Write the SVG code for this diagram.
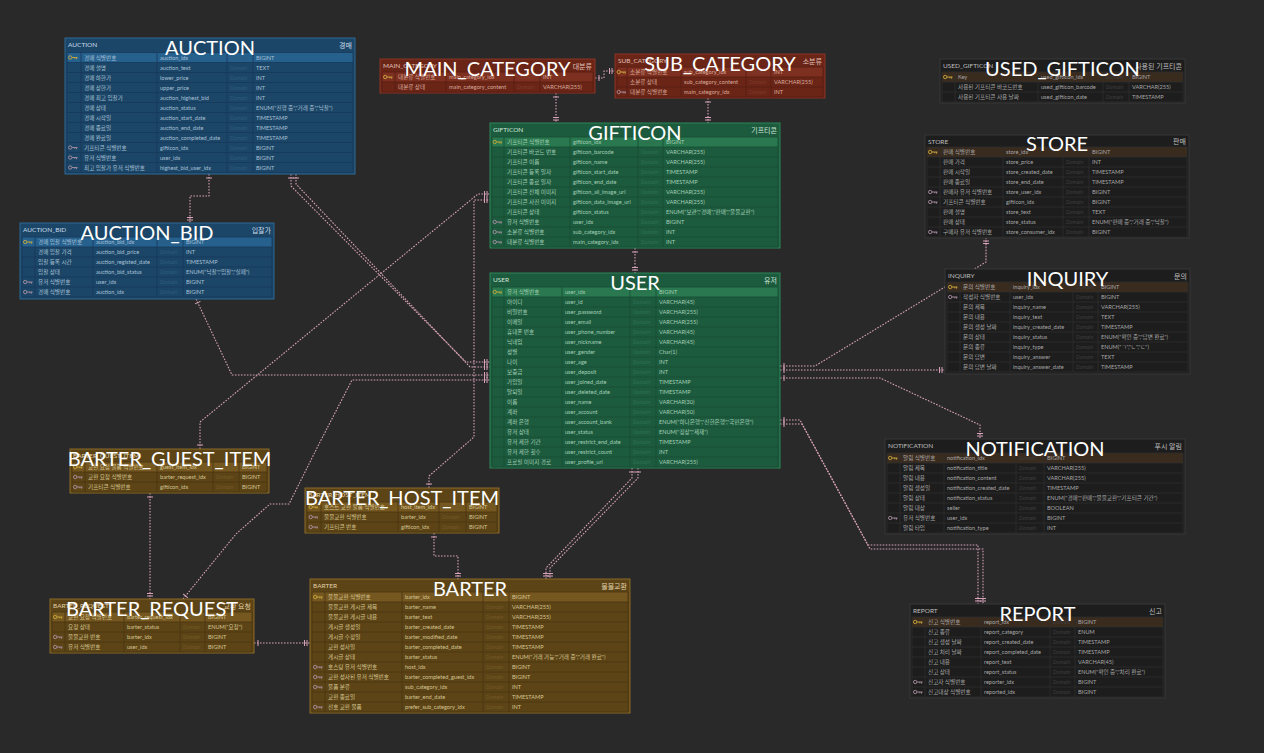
<svg xmlns="http://www.w3.org/2000/svg" xmlns:xlink="http://www.w3.org/1999/xlink" width="1264" height="753" viewBox="0 0 1264 753">
<style>
text{font-family:Lato,"Noto Sans","Noto Sans CJK KR",sans-serif}
.k,.p,.y{font-size:5.6px}
.d{font-size:5.3px;font-style:italic}
.hl{font-size:6.5px}
.hr{font-size:7px;text-anchor:end}
.grid{fill:none;stroke-width:0.8}
.box{stroke-width:1}
.blue .box{fill:#1c4667;stroke:#2c6894}.blue .pk{fill:#26618e}.blue .grid{stroke:#17395a}
.blue text{fill:#a7c0d6}.blue .d{fill:#2e5b7e}.blue .hl,.blue .hr{fill:#c9dbe9}
.green .box{fill:#1d5b3f;stroke:#2d8656}.green .pk{fill:#29784f}.green .grid{stroke:#184b34}
.green text{fill:#a3cfb5}.green .d{fill:#2e7050}.green .hl,.green .hr{fill:#cfe6d8}
.red .box{fill:#6a2517;stroke:#8a3524}.red .pk{fill:#7e3020}.red .grid{stroke:#561c11}
.red text{fill:#d9aa9c}.red .d{fill:#7e3b2c}.red .hl,.red .hr{fill:#e0c0b8}
.gold .box{fill:#5c4416;stroke:#8a6a28}.gold .pk{fill:#755720}.gold .grid{stroke:#4a3610}
.gold text{fill:#d6c591}.gold .d{fill:#735a28}.gold .hl,.gold .hr{fill:#e0d0a8}
.dark .box{fill:#1d1d1d;stroke:#393939}.dark .pk{fill:#3a2b1f}.dark .grid{stroke:#2e2e2e}
.dark text{fill:#a7a7a7}.dark .d{fill:#3e3e3e}.dark .hl,.dark .hr{fill:#bdbdbd}
.node text.ttl{font-size:20px;fill:#ffffff;text-anchor:middle}
.conn path{fill:none;stroke:#d8a3b8;stroke-width:1.1;stroke-dasharray:1.6 1.4;marker-start:url(#m1);marker-end:url(#m2)}
</style>
<defs>
<marker id="m1" viewBox="-7 -4 9 8" refX="0" refY="0" markerWidth="9" markerHeight="8" markerUnits="userSpaceOnUse" orient="auto-start-reverse"><path d="M-4,-3V3" stroke="#d8a3b8" stroke-width="1" fill="none"/></marker>
<marker id="m2" viewBox="-7 -4 9 8" refX="0" refY="0" markerWidth="9" markerHeight="8" markerUnits="userSpaceOnUse" orient="auto-start-reverse"><path d="M-3,-3V3M-5.5,-3V3" stroke="#d8a3b8" stroke-width="1" fill="none"/></marker>
<g id="kp"><circle cx="2.2" cy="0" r="1.7" fill="none" stroke="#c9a83c" stroke-width="0.9"/><path d="M3.9,0H9.5M8.6,0V1.7M6.8,0V1.3" stroke="#c9a83c" stroke-width="0.9" fill="none"/></g>
<g id="kf"><circle cx="2.2" cy="0" r="1.7" fill="none" stroke="#a88fa0" stroke-width="0.9"/><path d="M3.9,0H9.5M8.6,0V1.7M6.8,0V1.3" stroke="#a88fa0" stroke-width="0.9" fill="none"/></g>
</defs>
<rect width="1264" height="753" fill="#292929"/>

<g class="conn" id="connectors">
<path d="M595,78H604V71H615"/>
<path d="M556,93V123"/>
<path d="M708,98V123"/>
<path d="M635,248V273"/>
<path d="M209,174V196H190V223"/>
<path d="M196,299L232,375H490"/>
<path d="M291,174V186L466,362H490"/>
<path d="M296,174V184L470,367H490"/>
<path d="M200,449V422L478,194H490"/>
<path d="M429,488V476L474,437V200H490"/>
<path d="M183,599L236,534L270,504H289L319,444L352,380H490"/>
<path d="M150,493V599"/>
<path d="M254,643H310"/>
<path d="M434,533V556H458V579"/>
<path d="M632,468V478L546,568V579"/>
<path d="M638,468V478L550,568V579"/>
<path d="M780,366H815L986,262V238"/>
<path d="M780,370H945"/>
<path d="M780,378H880L980,425V439"/>
<path d="M780,420H800L868,545H978V604"/>
<path d="M780,424H802L870,549H983V604"/>
</g>

<g id="auction" class="node blue" transform="translate(65,38)">
<rect class="box" x="0" y="0" width="290" height="136"/>
<text class="hl" x="3" y="9">AUCTION</text><text class="hr" x="287" y="9.5">경매</text>
<g transform="translate(0,14.5)">
<rect class="pk" x="2" y="0" width="286" height="10"/>
<path class="grid" d="M2,0H288V120H2ZM2,10H288M2,20H288M2,30H288M2,40H288M2,50H288M2,60H288M2,70H288M2,80H288M2,90H288M2,100H288M2,110H288M16,0V120M92,0V120M162,0V120M188,0V120"/>
<use href="#kp" x="3" y="5"/><use href="#kf" x="3" y="95"/><use href="#kf" x="3" y="105"/><use href="#kf" x="3" y="115"/>
<text class="k" y="7.2"><tspan x="19">경매 식별번호</tspan><tspan x="19" dy="10">경매 설명</tspan><tspan x="19" dy="10">경매 하한가</tspan><tspan x="19" dy="10">경매 상한가</tspan><tspan x="19" dy="10">경매 최고 입찰가</tspan><tspan x="19" dy="10">경매 상태</tspan><tspan x="19" dy="10">경매 시작일</tspan><tspan x="19" dy="10">경매 종료일</tspan><tspan x="19" dy="10">경매 완료일</tspan><tspan x="19" dy="10">기프티콘 식별번호</tspan><tspan x="19" dy="10">유저 식별번호</tspan><tspan x="19" dy="10">최고 입찰가 유저 식별번호</tspan></text>
<text class="p" y="7.2"><tspan x="95">auction_idx</tspan><tspan x="95" dy="10">auction_text</tspan><tspan x="95" dy="10">lower_price</tspan><tspan x="95" dy="10">upper_price</tspan><tspan x="95" dy="10">auction_highest_bid</tspan><tspan x="95" dy="10">auction_status</tspan><tspan x="95" dy="10">auction_start_date</tspan><tspan x="95" dy="10">auction_end_date</tspan><tspan x="95" dy="10">auction_completed_date</tspan><tspan x="95" dy="10">gifticon_idx</tspan><tspan x="95" dy="10">user_idx</tspan><tspan x="95" dy="10">highest_bid_user_idx</tspan></text>
<text class="d" y="7.2"><tspan x="165">Domain</tspan><tspan x="165" dy="10">Domain</tspan><tspan x="165" dy="10">Domain</tspan><tspan x="165" dy="10">Domain</tspan><tspan x="165" dy="10">Domain</tspan><tspan x="165" dy="10">Domain</tspan><tspan x="165" dy="10">Domain</tspan><tspan x="165" dy="10">Domain</tspan><tspan x="165" dy="10">Domain</tspan><tspan x="165" dy="10">Domain</tspan><tspan x="165" dy="10">Domain</tspan><tspan x="165" dy="10">Domain</tspan></text>
<text class="y" y="7.2"><tspan x="191">BIGINT</tspan><tspan x="191" dy="10">TEXT</tspan><tspan x="191" dy="10">INT</tspan><tspan x="191" dy="10">INT</tspan><tspan x="191" dy="10">INT</tspan><tspan x="191" dy="10">ENUM("진행 중","거래 중","낙찰")</tspan><tspan x="191" dy="10">TIMESTAMP</tspan><tspan x="191" dy="10">TIMESTAMP</tspan><tspan x="191" dy="10">TIMESTAMP</tspan><tspan x="191" dy="10">BIGINT</tspan><tspan x="191" dy="10">BIGINT</tspan><tspan x="191" dy="10">BIGINT</tspan></text>
</g>
<text class="ttl" x="145" y="16.5">AUCTION</text>
</g>

<g id="main_category" class="node red" transform="translate(380,59)">
<rect class="box" x="0" y="0" width="215" height="34"/>
<text class="hl" x="3" y="9">MAIN_CATEGORY</text><text class="hr" x="212" y="9.5">대분류</text>
<g transform="translate(0,13)">
<rect class="pk" x="2" y="0" width="211" height="10"/>
<path class="grid" d="M2,0H213V20H2ZM2,10H213M15,0V20M66,0V20M134,0V20M160,0V20"/>
<use href="#kp" x="3" y="5"/>
<text class="k" y="7.2"><tspan x="18">대분류 식별번호</tspan><tspan x="18" dy="10">대분류 상태</tspan></text>
<text class="p" y="7.2"><tspan x="69">main_category_idx</tspan><tspan x="69" dy="10">main_category_content</tspan></text>
<text class="d" y="7.2"><tspan x="137">Domain</tspan><tspan x="137" dy="10">Domain</tspan></text>
<text class="y" y="7.2"><tspan x="163">INT</tspan><tspan x="163" dy="10">VARCHAR(255)</tspan></text>
</g>
<text class="ttl" x="107.5" y="17">MAIN_CATEGORY</text>
</g>

<g id="sub_category" class="node red" transform="translate(615,54)">
<rect class="box" x="0" y="0" width="210" height="44"/>
<text class="hl" x="3" y="9">SUB_CATEGORY</text><text class="hr" x="207" y="9.5">소분류</text>
<g transform="translate(0,13)">
<rect class="pk" x="2" y="0" width="206" height="10"/>
<path class="grid" d="M2,0H208V30H2ZM2,10H208M2,20H208M12,0V30M66,0V30M131,0V30M156,0V30"/>
<use href="#kp" x="1.5" y="5"/><use href="#kf" x="1.5" y="25"/>
<text class="k" y="7.2"><tspan x="15">소분류 식별번호</tspan><tspan x="15" dy="10">소분류 상태</tspan><tspan x="15" dy="10">대분류 식별번호</tspan></text>
<text class="p" y="7.2"><tspan x="69">sub_category_idx</tspan><tspan x="69" dy="10">sub_category_content</tspan><tspan x="69" dy="10">main_category_idx</tspan></text>
<text class="d" y="7.2"><tspan x="134">Domain</tspan><tspan x="134" dy="10">Domain</tspan><tspan x="134" dy="10">Domain</tspan></text>
<text class="y" y="7.2"><tspan x="159">INT</tspan><tspan x="159" dy="10">VARCHAR(255)</tspan><tspan x="159" dy="10">INT</tspan></text>
</g>
<text class="ttl" x="105" y="16.5">SUB_CATEGORY</text>
</g>

<g id="gifticon" class="node green" transform="translate(490,123)">
<rect class="box" x="0" y="0" width="290" height="125"/>
<text class="hl" x="3" y="9">GIFTICON</text><text class="hr" x="287" y="9.5">기프티콘</text>
<g transform="translate(0,14)">
<rect class="pk" x="2" y="0" width="286" height="10"/>
<path class="grid" d="M2,0H288V110H2ZM2,10H288M2,20H288M2,30H288M2,40H288M2,50H288M2,60H288M2,70H288M2,80H288M2,90H288M2,100H288M14,0V110M80,0V110M148,0V110M173,0V110"/>
<use href="#kp" x="2.5" y="5"/><use href="#kf" x="2.5" y="85"/><use href="#kf" x="2.5" y="95"/><use href="#kf" x="2.5" y="105"/>
<text class="k" y="7.2"><tspan x="17">기프티콘 식별번호</tspan><tspan x="17" dy="10">기프티콘 바코드 번호</tspan><tspan x="17" dy="10">기프티콘 이름</tspan><tspan x="17" dy="10">기프티콘 등록 일자</tspan><tspan x="17" dy="10">기프티콘 종료 일자</tspan><tspan x="17" dy="10">기프티콘 전체 이미지</tspan><tspan x="17" dy="10">기프티콘 사진 이미지</tspan><tspan x="17" dy="10">기프티콘 상태</tspan><tspan x="17" dy="10">유저 식별번호</tspan><tspan x="17" dy="10">소분류 식별번호</tspan><tspan x="17" dy="10">대분류 식별번호</tspan></text>
<text class="p" y="7.2"><tspan x="83">gifticon_idx</tspan><tspan x="83" dy="10">gifticon_barcode</tspan><tspan x="83" dy="10">gifticon_name</tspan><tspan x="83" dy="10">gifticon_start_date</tspan><tspan x="83" dy="10">gifticon_end_date</tspan><tspan x="83" dy="10">gifticon_all_image_url</tspan><tspan x="83" dy="10">gifticon_data_image_url</tspan><tspan x="83" dy="10">gifticon_status</tspan><tspan x="83" dy="10">user_idx</tspan><tspan x="83" dy="10">sub_category_idx</tspan><tspan x="83" dy="10">main_category_idx</tspan></text>
<text class="d" y="7.2"><tspan x="151">Domain</tspan><tspan x="151" dy="10">Domain</tspan><tspan x="151" dy="10">Domain</tspan><tspan x="151" dy="10">Domain</tspan><tspan x="151" dy="10">Domain</tspan><tspan x="151" dy="10">Domain</tspan><tspan x="151" dy="10">Domain</tspan><tspan x="151" dy="10">Domain</tspan><tspan x="151" dy="10">Domain</tspan><tspan x="151" dy="10">Domain</tspan><tspan x="151" dy="10">Domain</tspan></text>
<text class="y" y="7.2"><tspan x="176">BIGINT</tspan><tspan x="176" dy="10">VARCHAR(255)</tspan><tspan x="176" dy="10">VARCHAR(255)</tspan><tspan x="176" dy="10">TIMESTAMP</tspan><tspan x="176" dy="10">TIMESTAMP</tspan><tspan x="176" dy="10">VARCHAR(255)</tspan><tspan x="176" dy="10">VARCHAR(255)</tspan><tspan x="176" dy="10">ENUM("보관","경매","판매","물물교환")</tspan><tspan x="176" dy="10">BIGINT</tspan><tspan x="176" dy="10">INT</tspan><tspan x="176" dy="10">INT</tspan></text>
</g>
<text class="ttl" x="145" y="16.5">GIFTICON</text>
</g>

<g id="user" class="node green" transform="translate(490,273)">
<rect class="box" x="0" y="0" width="290" height="195"/>
<text class="hl" x="3" y="9">USER</text><text class="hr" x="287" y="9.5">유저</text>
<g transform="translate(0,14)">
<rect class="pk" x="2" y="0" width="286" height="10"/>
<path class="grid" d="M2,0H288V180H2ZM2,10H288M2,20H288M2,30H288M2,40H288M2,50H288M2,60H288M2,70H288M2,80H288M2,90H288M2,100H288M2,110H288M2,120H288M2,130H288M2,140H288M2,150H288M2,160H288M2,170H288M14,0V180M72,0V180M140,0V180M166,0V180"/>
<use href="#kp" x="2.5" y="5"/>
<text class="k" y="7.2"><tspan x="17">유저 식별번호</tspan><tspan x="17" dy="10">아이디</tspan><tspan x="17" dy="10">비밀번호</tspan><tspan x="17" dy="10">이메일</tspan><tspan x="17" dy="10">휴대폰 번호</tspan><tspan x="17" dy="10">닉네임</tspan><tspan x="17" dy="10">성별</tspan><tspan x="17" dy="10">나이</tspan><tspan x="17" dy="10">보증금</tspan><tspan x="17" dy="10">가입일</tspan><tspan x="17" dy="10">탈퇴일</tspan><tspan x="17" dy="10">이름</tspan><tspan x="17" dy="10">계좌</tspan><tspan x="17" dy="10">계좌 은행</tspan><tspan x="17" dy="10">유저 상태</tspan><tspan x="17" dy="10">유저 제한 기간</tspan><tspan x="17" dy="10">유저 제한 횟수</tspan><tspan x="17" dy="10">프로필 이미지 경로</tspan></text>
<text class="p" y="7.2"><tspan x="75">user_idx</tspan><tspan x="75" dy="10">user_id</tspan><tspan x="75" dy="10">user_password</tspan><tspan x="75" dy="10">user_email</tspan><tspan x="75" dy="10">user_phone_number</tspan><tspan x="75" dy="10">user_nickname</tspan><tspan x="75" dy="10">user_gender</tspan><tspan x="75" dy="10">user_age</tspan><tspan x="75" dy="10">user_deposit</tspan><tspan x="75" dy="10">user_joined_date</tspan><tspan x="75" dy="10">user_deleted_date</tspan><tspan x="75" dy="10">user_name</tspan><tspan x="75" dy="10">user_account</tspan><tspan x="75" dy="10">user_account_bank</tspan><tspan x="75" dy="10">user_status</tspan><tspan x="75" dy="10">user_restrict_end_date</tspan><tspan x="75" dy="10">user_restrict_count</tspan><tspan x="75" dy="10">user_profile_url</tspan></text>
<text class="d" y="7.2"><tspan x="143">Domain</tspan><tspan x="143" dy="10">Domain</tspan><tspan x="143" dy="10">Domain</tspan><tspan x="143" dy="10">Domain</tspan><tspan x="143" dy="10">Domain</tspan><tspan x="143" dy="10">Domain</tspan><tspan x="143" dy="10">Domain</tspan><tspan x="143" dy="10">Domain</tspan><tspan x="143" dy="10">Domain</tspan><tspan x="143" dy="10">Domain</tspan><tspan x="143" dy="10">Domain</tspan><tspan x="143" dy="10">Domain</tspan><tspan x="143" dy="10">Domain</tspan><tspan x="143" dy="10">Domain</tspan><tspan x="143" dy="10">Domain</tspan><tspan x="143" dy="10">Domain</tspan><tspan x="143" dy="10">Domain</tspan><tspan x="143" dy="10">Domain</tspan></text>
<text class="y" y="7.2"><tspan x="169">BIGINT</tspan><tspan x="169" dy="10">VARCHAR(45)</tspan><tspan x="169" dy="10">VARCHAR(255)</tspan><tspan x="169" dy="10">VARCHAR(255)</tspan><tspan x="169" dy="10">VARCHAR(45)</tspan><tspan x="169" dy="10">VARCHAR(45)</tspan><tspan x="169" dy="10">Char(1)</tspan><tspan x="169" dy="10">INT</tspan><tspan x="169" dy="10">INT</tspan><tspan x="169" dy="10">TIMESTAMP</tspan><tspan x="169" dy="10">TIMESTAMP</tspan><tspan x="169" dy="10">VARCHAR(30)</tspan><tspan x="169" dy="10">VARCHAR(50)</tspan><tspan x="169" dy="10">ENUM("하나은행","신한은행","국민은행")</tspan><tspan x="169" dy="10">ENUM("정상","제재")</tspan><tspan x="169" dy="10">TIMESTAMP</tspan><tspan x="169" dy="10">INT</tspan><tspan x="169" dy="10">VARCHAR(255)</tspan></text>
</g>
<text class="ttl" x="145" y="16.5">USER</text>
</g>

<g id="used_gifticon" class="node dark" transform="translate(940,59)">
<rect class="box" x="0" y="0" width="245" height="44"/>
<text class="hl" x="3" y="9">USED_GIFTICON</text><text class="hr" x="242" y="9.5">사용된 기프티콘</text>
<g transform="translate(0,13)">
<rect class="pk" x="2" y="0" width="241" height="10"/>
<path class="grid" d="M2,0H243V30H2ZM2,10H243M2,20H243M15,0V30M98,0V30M163,0V30M189,0V30"/>
<use href="#kp" x="3" y="5"/>
<text class="k" y="7.2"><tspan x="18">Key</tspan><tspan x="18" dy="10">사용된 기프티콘 바코드번호</tspan><tspan x="18" dy="10">사용된 기프티콘 사용 날짜</tspan></text>
<text class="p" y="7.2"><tspan x="101">used_gifticon_idx</tspan><tspan x="101" dy="10">used_gifticon_barcode</tspan><tspan x="101" dy="10">used_gifticon_date</tspan></text>
<text class="d" y="7.2"><tspan x="166">Domain</tspan><tspan x="166" dy="10">Domain</tspan><tspan x="166" dy="10">Domain</tspan></text>
<text class="y" y="7.2"><tspan x="192">BIGINT</tspan><tspan x="192" dy="10">VARCHAR(255)</tspan><tspan x="192" dy="10">TIMESTAMP</tspan></text>
</g>
<text class="ttl" x="122.5" y="16.5">USED_GIFTICON</text>
</g>

<g id="store" class="node dark" transform="translate(925,135)">
<rect class="box" x="0" y="0" width="264" height="103"/>
<text class="hl" x="3" y="8.5">STORE</text><text class="hr" x="261" y="9">판매</text>
<g transform="translate(0,12)">
<rect class="pk" x="2" y="0" width="260" height="10"/>
<path class="grid" d="M2,0H262V90H2ZM2,10H262M2,20H262M2,30H262M2,40H262M2,50H262M2,60H262M2,70H262M2,80H262M15,0V90M78,0V90M138,0V90M164,0V90"/>
<use href="#kp" x="3" y="5"/><use href="#kf" x="3" y="45"/><use href="#kf" x="3" y="55"/><use href="#kf" x="3" y="85"/>
<text class="k" y="7.2"><tspan x="18">판매 식별번호</tspan><tspan x="18" dy="10">판매 가격</tspan><tspan x="18" dy="10">판매 시작일</tspan><tspan x="18" dy="10">판매 종료일</tspan><tspan x="18" dy="10">판매자 유저 식별번호</tspan><tspan x="18" dy="10">기프티콘 식별번호</tspan><tspan x="18" dy="10">판매 설명</tspan><tspan x="18" dy="10">판매 상태</tspan><tspan x="18" dy="10">구매자 유저 식별번호</tspan></text>
<text class="p" y="7.2"><tspan x="81">store_idx</tspan><tspan x="81" dy="10">store_price</tspan><tspan x="81" dy="10">store_created_date</tspan><tspan x="81" dy="10">store_end_date</tspan><tspan x="81" dy="10">store_user_idx</tspan><tspan x="81" dy="10">gifticon_idx</tspan><tspan x="81" dy="10">store_text</tspan><tspan x="81" dy="10">store_status</tspan><tspan x="81" dy="10">store_consumer_idx</tspan></text>
<text class="d" y="7.2"><tspan x="141" dy="10">Domain</tspan><tspan x="141" dy="10">Domain</tspan><tspan x="141" dy="10">Domain</tspan><tspan x="141" dy="10">Domain</tspan><tspan x="141" dy="10">Domain</tspan><tspan x="141" dy="10">Domain</tspan><tspan x="141" dy="10">Domain</tspan><tspan x="141" dy="10">Domain</tspan></text>
<text class="y" y="7.2"><tspan x="167">BIGINT</tspan><tspan x="167" dy="10">INT</tspan><tspan x="167" dy="10">TIMESTAMP</tspan><tspan x="167" dy="10">TIMESTAMP</tspan><tspan x="167" dy="10">BIGINT</tspan><tspan x="167" dy="10">BIGINT</tspan><tspan x="167" dy="10">TEXT</tspan><tspan x="167" dy="10">ENUM("판매 중","거래 중","낙찰")</tspan><tspan x="167" dy="10">BIGINT</tspan></text>
</g>
<text class="ttl" x="132" y="16">STORE</text>
</g>

<g id="inquiry" class="node dark" transform="translate(945,269)">
<rect class="box" x="0" y="0" width="245" height="105"/>
<text class="hl" x="3" y="9">INQUIRY</text><text class="hr" x="242" y="9.5">문의</text>
<g transform="translate(0,13)">
<rect class="pk" x="2" y="0" width="241" height="10"/>
<path class="grid" d="M2,0H243V90H2ZM2,10H243M2,20H243M2,30H243M2,40H243M2,50H243M2,60H243M2,70H243M2,80H243M15,0V90M65,0V90M128,0V90M153,0V90"/>
<use href="#kp" x="3" y="5"/><use href="#kf" x="3" y="15"/>
<text class="k" y="7.2"><tspan x="18">문의 식별번호</tspan><tspan x="18" dy="10">작성자 식별번호</tspan><tspan x="18" dy="10">문의 제목</tspan><tspan x="18" dy="10">문의 내용</tspan><tspan x="18" dy="10">문의 생성 날짜</tspan><tspan x="18" dy="10">문의 상태</tspan><tspan x="18" dy="10">문의 종류</tspan><tspan x="18" dy="10">문의 답변</tspan><tspan x="18" dy="10">문의 답변 날짜</tspan></text>
<text class="p" y="7.2"><tspan x="68">inquiry_idx</tspan><tspan x="68" dy="10">user_idx</tspan><tspan x="68" dy="10">inquiry_name</tspan><tspan x="68" dy="10">inquiry_text</tspan><tspan x="68" dy="10">inquiry_created_date</tspan><tspan x="68" dy="10">inquiry_status</tspan><tspan x="68" dy="10">inquiry_type</tspan><tspan x="68" dy="10">inquiry_answer</tspan><tspan x="68" dy="10">inquiry_answer_date</tspan></text>
<text class="d" y="7.2"><tspan x="131">Domain</tspan><tspan x="131" dy="10">Domain</tspan><tspan x="131" dy="10">Domain</tspan><tspan x="131" dy="10">Domain</tspan><tspan x="131" dy="10">Domain</tspan><tspan x="131" dy="10">Domain</tspan><tspan x="131" dy="10">Domain</tspan><tspan x="131" dy="10">Domain</tspan><tspan x="131" dy="10">Domain</tspan></text>
<text class="y" y="7.2"><tspan x="156">BIGINT</tspan><tspan x="156" dy="10">BIGINT</tspan><tspan x="156" dy="10">VARCHAR(255)</tspan><tspan x="156" dy="10">TEXT</tspan><tspan x="156" dy="10">TIMESTAMP</tspan><tspan x="156" dy="10">ENUM("확인 중","답변 완료")</tspan><tspan x="156" dy="10">ENUM("ㄱ","ㄴ","ㄷ")</tspan><tspan x="156" dy="10">TEXT</tspan><tspan x="156" dy="10">TIMESTAMP</tspan></text>
</g>
<text class="ttl" x="122.5" y="16.5">INQUIRY</text>
</g>

<g id="notification" class="node dark" transform="translate(885,439)">
<rect class="box" x="0" y="0" width="300" height="95"/>
<text class="hl" x="3" y="9">NOTIFICATION</text><text class="hr" x="297" y="9.5">푸시 알림</text>
<g transform="translate(0,14)">
<rect class="pk" x="2" y="0" width="296" height="10"/>
<path class="grid" d="M2,0H298V80H2ZM2,10H298M2,20H298M2,30H298M2,40H298M2,50H298M2,60H298M2,70H298M15,0V80M59,0V80M131,0V80M159,0V80"/>
<use href="#kp" x="3" y="5"/><use href="#kf" x="3" y="65"/>
<text class="k" y="7.2"><tspan x="18">알림 식별번호</tspan><tspan x="18" dy="10">알림 제목</tspan><tspan x="18" dy="10">알림 내용</tspan><tspan x="18" dy="10">알림 생성일</tspan><tspan x="18" dy="10">알림 상태</tspan><tspan x="18" dy="10">알림 대상</tspan><tspan x="18" dy="10">유저 식별번호</tspan><tspan x="18" dy="10">알림 타입</tspan></text>
<text class="p" y="7.2"><tspan x="62">notification_idx</tspan><tspan x="62" dy="10">notification_title</tspan><tspan x="62" dy="10">notification_content</tspan><tspan x="62" dy="10">notification_created_date</tspan><tspan x="62" dy="10">notification_status</tspan><tspan x="62" dy="10">seller</tspan><tspan x="62" dy="10">user_idx</tspan><tspan x="62" dy="10">notification_type</tspan></text>
<text class="d" y="7.2"><tspan x="134">Domain</tspan><tspan x="134" dy="10">Domain</tspan><tspan x="134" dy="10">Domain</tspan><tspan x="134" dy="10">Domain</tspan><tspan x="134" dy="10">Domain</tspan><tspan x="134" dy="10">Domain</tspan><tspan x="134" dy="10">Domain</tspan><tspan x="134" dy="10">Domain</tspan></text>
<text class="y" y="7.2"><tspan x="162">BIGINT</tspan><tspan x="162" dy="10">VARCHAR(255)</tspan><tspan x="162" dy="10">VARCHAR(255)</tspan><tspan x="162" dy="10">TIMESTAMP</tspan><tspan x="162" dy="10">ENUM("경매","판매","물물교환","기프티콘 기간")</tspan><tspan x="162" dy="10">BOOLEAN</tspan><tspan x="162" dy="10">BIGINT</tspan><tspan x="162" dy="10">INT</tspan></text>
</g>
<text class="ttl" x="150" y="16.5">NOTIFICATION</text>
</g>

<g id="report" class="node dark" transform="translate(910,604)">
<rect class="box" x="0" y="0" width="255" height="94"/>
<text class="hl" x="3" y="9">REPORT</text><text class="hr" x="252" y="9.5">신고</text>
<g transform="translate(0,13)">
<rect class="pk" x="2" y="0" width="251" height="10"/>
<path class="grid" d="M2,0H253V80H2ZM2,10H253M2,20H253M2,30H253M2,40H253M2,50H253M2,60H253M2,70H253M15,0V80M71,0V80M140,0V80M165,0V80"/>
<use href="#kp" x="3" y="5"/><use href="#kf" x="3" y="65"/><use href="#kf" x="3" y="75"/>
<text class="k" y="7.2"><tspan x="18">신고 식별번호</tspan><tspan x="18" dy="10">신고 종류</tspan><tspan x="18" dy="10">신고 생성 날짜</tspan><tspan x="18" dy="10">신고 처리 날짜</tspan><tspan x="18" dy="10">신고 내용</tspan><tspan x="18" dy="10">신고 상태</tspan><tspan x="18" dy="10">신고자 식별번호</tspan><tspan x="18" dy="10">신고대상 식별번호</tspan></text>
<text class="p" y="7.2"><tspan x="74">report_idx</tspan><tspan x="74" dy="10">report_category</tspan><tspan x="74" dy="10">report_created_date</tspan><tspan x="74" dy="10">report_completed_date</tspan><tspan x="74" dy="10">report_text</tspan><tspan x="74" dy="10">report_status</tspan><tspan x="74" dy="10">reporter_idx</tspan><tspan x="74" dy="10">reported_idx</tspan></text>
<text class="d" y="7.2"><tspan x="143">Domain</tspan><tspan x="143" dy="10">Domain</tspan><tspan x="143" dy="10">Domain</tspan><tspan x="143" dy="10">Domain</tspan><tspan x="143" dy="10">Domain</tspan><tspan x="143" dy="10">Domain</tspan><tspan x="143" dy="10">Domain</tspan><tspan x="143" dy="10">Domain</tspan></text>
<text class="y" y="7.2"><tspan x="168">BIGINT</tspan><tspan x="168" dy="10">ENUM</tspan><tspan x="168" dy="10">TIMESTAMP</tspan><tspan x="168" dy="10">TIMESTAMP</tspan><tspan x="168" dy="10">VARCHAR(45)</tspan><tspan x="168" dy="10">ENUM("확인 중","처리 완료")</tspan><tspan x="168" dy="10">BIGINT</tspan><tspan x="168" dy="10">BIGINT</tspan></text>
</g>
<text class="ttl" x="127.5" y="16.5">REPORT</text>
</g>

<g id="auction_bid" class="node blue" transform="translate(20,223)">
<rect class="box" x="0" y="0" width="254" height="76"/>
<text class="hl" x="3" y="9">AUCTION_BID</text><text class="hr" x="251" y="9.5">입찰가</text>
<g transform="translate(0,14)">
<rect class="pk" x="2" y="0" width="250" height="10"/>
<path class="grid" d="M2,0H252V60H2ZM2,10H252M2,20H252M2,30H252M2,40H252M2,50H252M15,0V60M73,0V60M137,0V60M163,0V60"/>
<use href="#kp" x="3" y="5"/><use href="#kf" x="3" y="45"/><use href="#kf" x="3" y="55"/>
<text class="k" y="7.2"><tspan x="18">경매 입찰 식별번호</tspan><tspan x="18" dy="10">경매 입찰 가격</tspan><tspan x="18" dy="10">입찰 등록 시간</tspan><tspan x="18" dy="10">입찰 상태</tspan><tspan x="18" dy="10">유저 식별번호</tspan><tspan x="18" dy="10">경매 식별번호</tspan></text>
<text class="p" y="7.2"><tspan x="76">auction_bid_idx</tspan><tspan x="76" dy="10">auction_bid_price</tspan><tspan x="76" dy="10">auction_registed_date</tspan><tspan x="76" dy="10">auction_bid_status</tspan><tspan x="76" dy="10">user_idx</tspan><tspan x="76" dy="10">auction_idx</tspan></text>
<text class="d" y="7.2"><tspan x="140">Domain</tspan><tspan x="140" dy="10">Domain</tspan><tspan x="140" dy="10">Domain</tspan><tspan x="140" dy="10">Domain</tspan><tspan x="140" dy="10">Domain</tspan><tspan x="140" dy="10">Domain</tspan></text>
<text class="y" y="7.2"><tspan x="166">BIGINT</tspan><tspan x="166" dy="10">INT</tspan><tspan x="166" dy="10">TIMESTAMP</tspan><tspan x="166" dy="10">ENUM("낙찰","입찰","실패")</tspan><tspan x="166" dy="10">BIGINT</tspan><tspan x="166" dy="10">BIGINT</tspan></text>
</g>
<text class="ttl" x="127" y="17">AUCTION_BID</text>
</g>

<g id="barter_guest_item" class="node gold" transform="translate(70,449)">
<rect class="box" x="0" y="0" width="199" height="44"/>
<text class="hl" x="3" y="9">BARTER_GUEST_ITEM</text>
<g transform="translate(0,13)">
<rect class="pk" x="2" y="0" width="195" height="10"/>
<path class="grid" d="M2,0H197V30H2ZM2,10H197M2,20H197M15,0V30M87,0V30M143,0V30M169,0V30"/>
<use href="#kp" x="3" y="5"/><use href="#kf" x="3" y="15"/><use href="#kf" x="3" y="25"/>
<text class="k" y="7.2"><tspan x="18">교환 요청 물품 식별번호</tspan><tspan x="18" dy="10">교환 요청 식별번호</tspan><tspan x="18" dy="10">기프티콘 식별번호</tspan></text>
<text class="p" y="7.2"><tspan x="90">guest_item_idx</tspan><tspan x="90" dy="10">barter_request_idx</tspan><tspan x="90" dy="10">gifticon_idx</tspan></text>
<text class="d" y="7.2"><tspan x="146">Domain</tspan><tspan x="146" dy="10">Domain</tspan><tspan x="146" dy="10">Domain</tspan></text>
<text class="y" y="7.2"><tspan x="172">BIGINT</tspan><tspan x="172" dy="10">BIGINT</tspan><tspan x="172" dy="10">BIGINT</tspan></text>
</g>
<text class="ttl" x="99.5" y="16.5">BARTER_GUEST_ITEM</text>
</g>

<g id="barter_host_item" class="node gold" transform="translate(305,488)">
<rect class="box" x="0" y="0" width="194" height="45"/>
<text class="hl" x="3" y="9">BARTER_HOST_ITEM</text>
<g transform="translate(0,14)">
<rect class="pk" x="2" y="0" width="190" height="10"/>
<path class="grid" d="M2,0H192V30H2ZM2,10H192M2,20H192M16,0V30M93,0V30M134,0V30M161,0V30"/>
<use href="#kp" x="3.5" y="5"/><use href="#kf" x="3.5" y="15"/><use href="#kf" x="3.5" y="25"/>
<text class="k" y="7.2"><tspan x="19">호스트 교환 물품 식별번호</tspan><tspan x="19" dy="10">물물교환 식별번호</tspan><tspan x="19" dy="10">기프티콘 번호</tspan></text>
<text class="p" y="7.2"><tspan x="96">host_item_idx</tspan><tspan x="96" dy="10">barter_idx</tspan><tspan x="96" dy="10">gifticon_idx</tspan></text>
<text class="d" y="7.2"><tspan x="137">Domain</tspan><tspan x="137" dy="10">Domain</tspan><tspan x="137" dy="10">Domain</tspan></text>
<text class="y" y="7.2"><tspan x="164">BIGINT</tspan><tspan x="164" dy="10">BIGINT</tspan><tspan x="164" dy="10">BIGINT</tspan></text>
</g>
<text class="ttl" x="97" y="17">BARTER_HOST_ITEM</text>
</g>

<g id="barter_request" class="node gold" transform="translate(50,599)">
<rect class="box" x="0" y="0" width="204" height="54"/>
<text class="hl" x="3" y="9">BARTER_REQUEST</text><text class="hr" x="201" y="9.5">교환 요청</text>
<g transform="translate(0,13)">
<rect class="pk" x="2" y="0" width="200" height="10"/>
<path class="grid" d="M2,0H202V40H2ZM2,10H202M2,20H202M2,30H202M15,0V40M74,0V40M130,0V40M155,0V40"/>
<use href="#kp" x="3" y="5"/><use href="#kf" x="3" y="25"/><use href="#kf" x="3" y="35"/>
<text class="k" y="7.2"><tspan x="18">교환 요청 식별번호</tspan><tspan x="18" dy="10">요청 상태</tspan><tspan x="18" dy="10">물물교환 번호</tspan><tspan x="18" dy="10">유저 식별번호</tspan></text>
<text class="p" y="7.2"><tspan x="77">barter_request_idx</tspan><tspan x="77" dy="10">barter_status</tspan><tspan x="77" dy="10">barter_idx</tspan><tspan x="77" dy="10">user_idx</tspan></text>
<text class="d" y="7.2"><tspan x="133">Domain</tspan><tspan x="133" dy="10">Domain</tspan><tspan x="133" dy="10">Domain</tspan><tspan x="133" dy="10">Domain</tspan></text>
<text class="y" y="7.2"><tspan x="158">BIGINT</tspan><tspan x="158" dy="10">ENUM("요청")</tspan><tspan x="158" dy="10">BIGINT</tspan><tspan x="158" dy="10">BIGINT</tspan></text>
</g>
<text class="ttl" x="102" y="16.5">BARTER_REQUEST</text>
</g>

<g id="barter" class="node gold" transform="translate(310,579)">
<rect class="box" x="0" y="0" width="320" height="134"/>
<text class="hl" x="3" y="9">BARTER</text><text class="hr" x="317" y="9.5">물물교환</text>
<g transform="translate(0,13)">
<rect class="pk" x="2" y="0" width="316" height="10"/>
<path class="grid" d="M2,0H318V120H2ZM2,10H318M2,20H318M2,30H318M2,40H318M2,50H318M2,60H318M2,70H318M2,80H318M2,90H318M2,100H318M2,110H318M15,0V120M92,0V120M173,0V120M199,0V120"/>
<use href="#kp" x="3" y="5"/><use href="#kf" x="3" y="75"/><use href="#kf" x="3" y="85"/><use href="#kf" x="3" y="95"/><use href="#kf" x="3" y="115"/>
<text class="k" y="7.2"><tspan x="18">물물교환 식별번호</tspan><tspan x="18" dy="10">물물교환 게시글 제목</tspan><tspan x="18" dy="10">물물교환 게시글 내용</tspan><tspan x="18" dy="10">게시글 생성일</tspan><tspan x="18" dy="10">게시글 수정일</tspan><tspan x="18" dy="10">교환 성사일</tspan><tspan x="18" dy="10">게시글 상태</tspan><tspan x="18" dy="10">호스팅 유저 식별번호</tspan><tspan x="18" dy="10">교환 성사된 유저 식별번호</tspan><tspan x="18" dy="10">물품 분류</tspan><tspan x="18" dy="10">교환 종료일</tspan><tspan x="18" dy="10">선호 교환 물품</tspan></text>
<text class="p" y="7.2"><tspan x="95">barter_idx</tspan><tspan x="95" dy="10">barter_name</tspan><tspan x="95" dy="10">barter_text</tspan><tspan x="95" dy="10">barter_created_date</tspan><tspan x="95" dy="10">barter_modified_date</tspan><tspan x="95" dy="10">barter_completed_date</tspan><tspan x="95" dy="10">barter_status</tspan><tspan x="95" dy="10">host_idx</tspan><tspan x="95" dy="10">barter_completed_guest_idx</tspan><tspan x="95" dy="10">sub_category_idx</tspan><tspan x="95" dy="10">barter_end_date</tspan><tspan x="95" dy="10">prefer_sub_category_idx</tspan></text>
<text class="d" y="7.2"><tspan x="176">Domain</tspan><tspan x="176" dy="10">Domain</tspan><tspan x="176" dy="10">Domain</tspan><tspan x="176" dy="10">Domain</tspan><tspan x="176" dy="10">Domain</tspan><tspan x="176" dy="10">Domain</tspan><tspan x="176" dy="10">Domain</tspan><tspan x="176" dy="10">Domain</tspan><tspan x="176" dy="10">Domain</tspan><tspan x="176" dy="10">Domain</tspan><tspan x="176" dy="10">Domain</tspan><tspan x="176" dy="10">Domain</tspan></text>
<text class="y" y="7.2"><tspan x="202">BIGINT</tspan><tspan x="202" dy="10">VARCHAR(255)</tspan><tspan x="202" dy="10">VARCHAR(255)</tspan><tspan x="202" dy="10">TIMESTAMP</tspan><tspan x="202" dy="10">TIMESTAMP</tspan><tspan x="202" dy="10">TIMESTAMP</tspan><tspan x="202" dy="10">ENUM("거래 가능","거래 중","거래 완료")</tspan><tspan x="202" dy="10">BIGINT</tspan><tspan x="202" dy="10">BIGINT</tspan><tspan x="202" dy="10">INT</tspan><tspan x="202" dy="10">TIMESTAMP</tspan><tspan x="202" dy="10">INT</tspan></text>
</g>
<text class="ttl" x="160" y="16.5">BARTER</text>
</g>
</svg>
